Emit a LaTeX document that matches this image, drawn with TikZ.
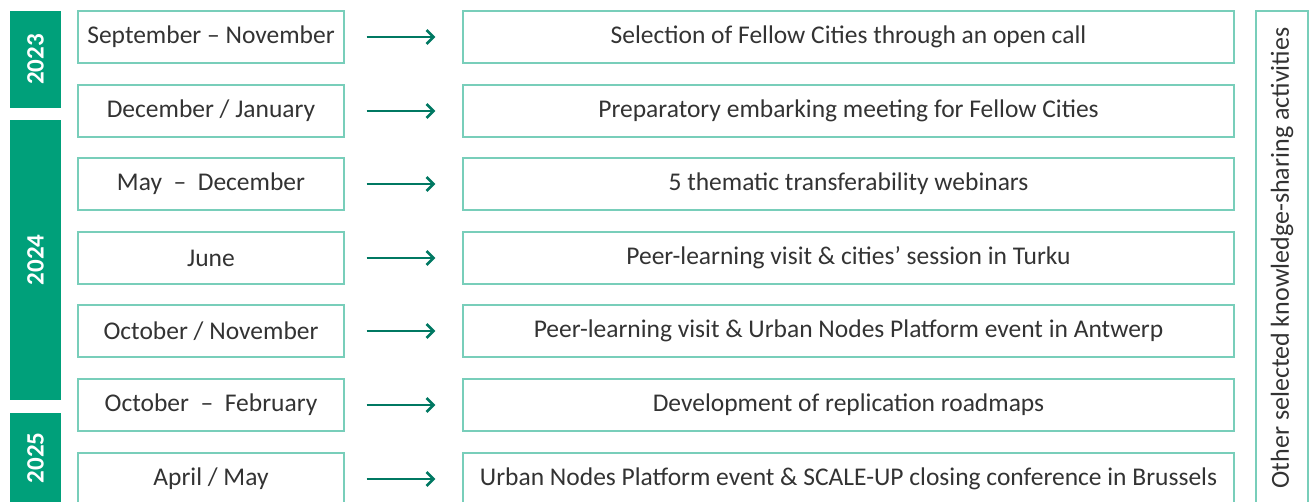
\documentclass[tikz,border=0pt]{standalone}
\usepackage{fontspec}
\setmainfont{Carlito}
\usetikzlibrary{arrows.meta}
\definecolor{yeargreen}{RGB}{0,160,122}
\definecolor{boxline}{RGB}{120,206,186}
\definecolor{arrowgreen}{RGB}{0,120,98}
\definecolor{textgray}{RGB}{51,51,51}

\begin{document}
\begin{tikzpicture}[x=1pt,y=-1pt]
\tikzset{year/.style = {fill=yeargreen,text=white,font=\bfseries\fontsize{25}{27}\selectfont,minimum height=51pt,inner sep=0pt,rotate=90}}
\tikzset{datebox/.style = {draw=boxline,line width=1.2pt,minimum width=266pt,minimum height=52pt,inner sep=0pt,text=textgray,font=\fontsize{25.5}{28}\selectfont}}
\tikzset{actbox/.style = {datebox,minimum width=771pt}}
\tikzset{edge/.style = {-{Straight Barb[length=7pt,width=14pt]},arrowgreen,line width=2.6pt,shorten <=22pt,shorten >=27pt}}
\useasboundingbox (0,0) rectangle (1312,501);
\clip (0,0) rectangle (1312,501);
% years
\node[year,minimum width=97pt]  (y23) at (35.5,59.5) {2023};
\node[year,minimum width=280pt] (y24) at (35.5,260) {2024};
\node[year,minimum width=90pt]  (y25) at (35.5,458) {2025};
% dates
\node[datebox] (d1) at (211,37)  {September -- November};
\node[datebox] (d2) at (211,111) {December / January};
\node[datebox] (d3) at (211,184) {May ~-- ~December};
\node[datebox] (d4) at (211,258) {June};
\node[datebox] (d5) at (211,331) {October / November};
\node[datebox] (d6) at (211,405) {October ~-- ~February};
\node[datebox] (d7) at (211,479) {April / May};
% activities
\node[actbox] (a1) at (848.5,37)  {Selection of Fellow Cities through an open call};
\node[actbox] (a2) at (848.5,111) {Preparatory embarking meeting for Fellow Cities};
\node[actbox] (a3) at (848.5,184) {5 thematic transferability webinars};
\node[actbox] (a4) at (848.5,258) {Peer-learning visit \& cities’ session in Turku};
\node[actbox] (a5) at (848.5,331) {Peer-learning visit \& Urban Nodes Platform event in Antwerp};
\node[actbox] (a6) at (848.5,405) {Development of replication roadmaps};
\node[actbox] (a7) at (848.5,479) {Urban Nodes Platform event \& SCALE-UP closing conference in Brussels};
% side box
\node[datebox,minimum width=494pt,rotate=90,font=\fontsize{26}{28}\selectfont] (other) at (1282,258) {Other selected knowledge-sharing activities};
%edges
\foreach \i in {1,...,7}
  \draw[edge] (d\i) to (a\i);
\end{tikzpicture}
\end{document}
